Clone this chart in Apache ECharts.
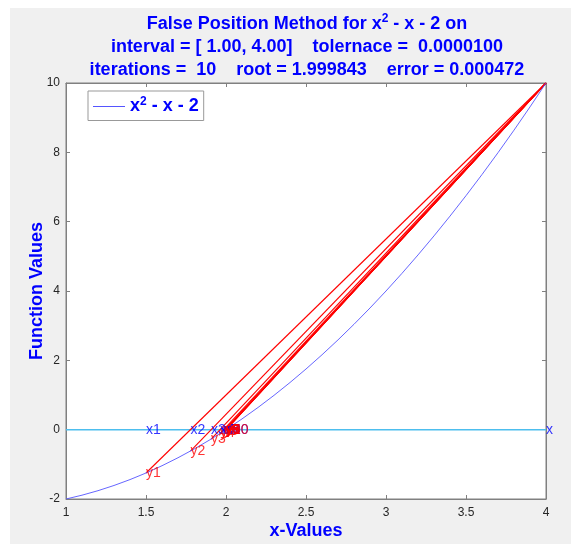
<!DOCTYPE html>
<html>
<head>
<meta charset="utf-8">
<script src="https://cdn.jsdelivr.net/npm/echarts@6/dist/echarts.min.js"></script>
<style>
  html, body { margin: 0; padding: 0; background: #fff; }
  #chart { width: 571px; height: 544px; }
</style>
</head>
<body>
<div id="chart"></div>
<script>
// curve f(x) = x^2 - x - 2
const curveX = [1.0, 1.1, 1.2, 1.3, 1.4, 1.5, 1.6, 1.7, 1.8, 1.9, 2.0, 2.1, 2.2, 2.3, 2.4, 2.5,
  2.6, 2.7, 2.8, 2.9, 3.0, 3.1, 3.2, 3.3, 3.4, 3.5, 3.6, 3.7, 3.8, 3.9, 4.0];
const curveY = [-2, -1.89, -1.76, -1.61, -1.44, -1.25, -1.04, -0.81, -0.56, -0.29, 0, 0.31, 0.64,
  0.99, 1.36, 1.75, 2.16, 2.59, 3.04, 3.51, 4, 4.51, 5.04, 5.59, 6.16, 6.75, 7.36, 7.99, 8.64, 9.31, 10];

// false position iterates
const iterX = [1.5, 1.777778, 1.906977, 1.962085, 1.984718, 1.993869, 1.997545, 1.999018, 1.999607, 1.999843];
const iterY = [-1.25, -0.617284, -0.270416, -0.112307, -0.045613, -0.018355, -0.007359, -0.002945, -0.001179, -0.000472];
const endPoint = [4, 10];

const xTicks = { min: 1, max: 4, interval: 0.5 };
const yTicks = { min: -2, max: 10, interval: 2 };

const blue = '#0000ff';
const red = '#ff0000';

var myChart = echarts.init(document.getElementById('chart'));

let series = [];

// secant lines
iterX.forEach((x, i) => {
  series.push({
    type: 'line',
    symbol: 'none',
    silent: true,
    z: 3,
    color: red,
    lineStyle: { color: red, width: 1.1 },
    data: [[x, iterY[i]], endPoint]
  });
});

// zero line
series.push({
  type: 'line',
  symbol: 'none',
  z: 2,
  color: '#4dbeee',
  lineStyle: { color: '#4dbeee', width: 1.5 },
  data: [[xTicks.min, 0], [xTicks.max, 0]]
});

// function curve
series.push({
  name: 'curve',
  type: 'line',
  symbol: 'none',
  z: 4,
  color: '#5555ff',
  lineStyle: { color: '#5555ff', width: 0.9 },
  data: curveX.map((x, i) => [x, curveY[i]])
});

// x labels
series.push({
  type: 'scatter',
  symbolSize: 0,
  z: 6,
  label: {
    show: true, position: 'right', distance: 0,
    color: blue, fontSize: 14, fontFamily: 'Liberation Sans',
    formatter: (p) => p.data[2]
  },
  data: iterX.map((x, i) => [x, 0, 'x' + (i + 1)]).concat([[endPoint[0], 0, 'x']])
});

// y labels
series.push({
  type: 'scatter',
  symbolSize: 0,
  z: 6,
  label: {
    show: true, position: 'right', distance: 0,
    color: red, fontSize: 14, fontFamily: 'Liberation Sans',
    formatter: (p) => p.data[2]
  },
  data: iterX.map((x, i) => [x, iterY[i], 'y' + (i + 1)])
});

const axisGray = '#808080';
const tickLabel = { color: '#262626', fontSize: 12, fontFamily: 'Liberation Sans' };

myChart.setOption({
  backgroundColor: '#ffffff',
  animation: false,
  graphic: [{
    type: 'rect', z: -10,
    shape: { x: 10, y: 8, width: 561, height: 536 },
    style: { fill: '#f0f0f0' }
  }],
  title: {
    left: 302,
    top: 8,
    textAlign: 'center',
    text: 'False Position Method for x{sup|2} - x - 2 on\n' +
      'interval = [ 1.00, 4.00]    tolernace =  0.0000100\n' +
      'iterations =  10    root = ' + iterX[iterX.length - 1].toFixed(6) +
      '    error = ' + Math.abs(iterY[iterY.length - 1]).toFixed(6),
    textStyle: {
      color: blue, fontSize: 18, fontWeight: 'bold', fontFamily: 'Liberation Sans',
      lineHeight: 23,
      rich: {
        sup: { fontSize: 12, fontWeight: 'bold', color: blue, verticalAlign: 'top', lineHeight: 23, padding: [0, 0, 8, 0] }
      }
    }
  },
  legend: {
    left: 88, top: 91,
    orient: 'vertical',
    data: ['curve'],
    icon: 'rect',
    itemWidth: 32,
    itemHeight: 1,
    itemGap: 4,
    padding: [5, 5, 5, 5],
    backgroundColor: '#ffffff',
    borderColor: '#999999',
    borderWidth: 1,
    borderRadius: 0,
    formatter: () => 'x{sup|2} - x - 2',
    textStyle: {
      color: blue, fontSize: 18, fontWeight: 'bold', fontFamily: 'Liberation Sans',
      rich: {
        sup: { fontSize: 12, fontWeight: 'bold', color: blue, verticalAlign: 'top', padding: [0, 0, 9, 0] }
      }
    }
  },
  grid: {
    left: 66, right: 25, top: 83, bottom: 45,
    outerBoundsMode: 'none',
    show: true,
    backgroundColor: '#ffffff',
    borderColor: axisGray,
    borderWidth: 1
  },
  xAxis: [{
    type: 'value',
    min: xTicks.min, max: xTicks.max, interval: xTicks.interval,
    name: 'x-Values',
    nameLocation: 'middle',
    nameGap: 23,
    nameMoveOverlap: false,
    nameTextStyle: { color: blue, fontSize: 18, fontWeight: 'bold', fontFamily: 'Liberation Sans' },
    axisLine: { onZero: false, lineStyle: { color: axisGray } },
    axisTick: { inside: true, length: 4, lineStyle: { color: axisGray } },
    axisLabel: Object.assign({ margin: 8 }, tickLabel),
    splitLine: { show: false }
  }, {
    type: 'value',
    position: 'top',
    min: xTicks.min, max: xTicks.max, interval: xTicks.interval,
    axisLine: { onZero: false, lineStyle: { color: axisGray } },
    axisTick: { inside: true, length: 4, lineStyle: { color: axisGray } },
    axisLabel: { show: false },
    splitLine: { show: false }
  }],
  yAxis: [{
    type: 'value',
    min: yTicks.min, max: yTicks.max, interval: yTicks.interval,
    name: 'Function Values',
    nameLocation: 'middle',
    nameGap: 20,
    nameMoveOverlap: false,
    nameTextStyle: { color: blue, fontSize: 18, fontWeight: 'bold', fontFamily: 'Liberation Sans' },
    axisLine: { show: true, onZero: false, lineStyle: { color: axisGray } },
    axisTick: { show: true, inside: true, length: 4, lineStyle: { color: axisGray } },
    axisLabel: Object.assign({ margin: 6 }, tickLabel),
    splitLine: { show: false }
  }, {
    type: 'value',
    position: 'right',
    min: yTicks.min, max: yTicks.max, interval: yTicks.interval,
    axisLine: { show: true, onZero: false, lineStyle: { color: axisGray } },
    axisTick: { show: true, inside: true, length: 4, lineStyle: { color: axisGray } },
    axisLabel: { show: false },
    splitLine: { show: false }
  }],
  series: series
});
</script>
</body>
</html>
